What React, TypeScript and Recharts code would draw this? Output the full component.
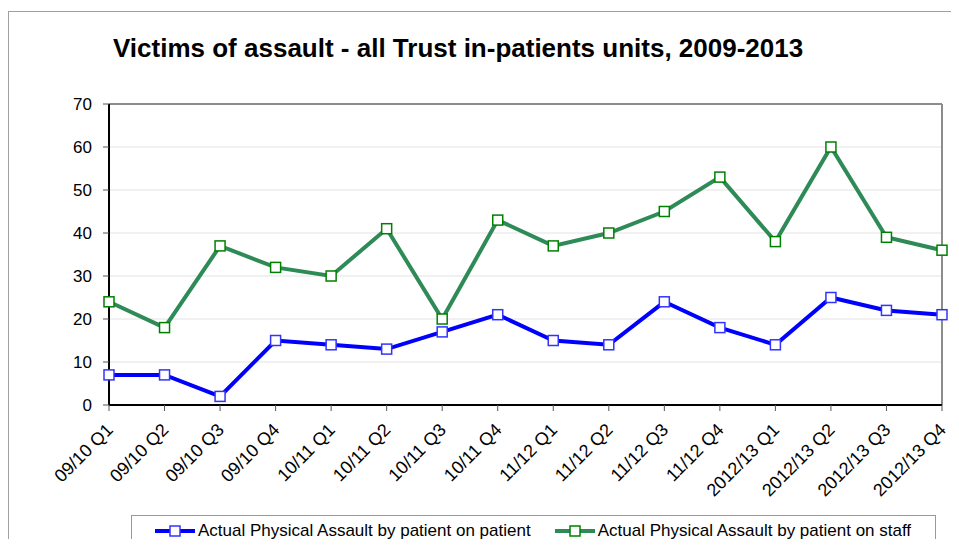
import React from "react";
import { CartesianGrid, Line, LineChart, ReferenceLine, XAxis, YAxis } from "recharts";

// Quarter labels along the x axis.
const QUARTERS = [
  "09/10 Q1", "09/10 Q2", "09/10 Q3", "09/10 Q4",
  "10/11 Q1", "10/11 Q2", "10/11 Q3", "10/11 Q4",
  "11/12 Q1", "11/12 Q2", "11/12 Q3", "11/12 Q4",
  "2012/13 Q1", "2012/13 Q2", "2012/13 Q3", "2012/13 Q4",
];

const ON_PATIENT = [7, 7, 2, 15, 14, 13, 17, 21, 15, 14, 24, 18, 14, 25, 22, 21];
const ON_STAFF = [24, 18, 37, 32, 30, 41, 20, 43, 37, 40, 45, 53, 38, 60, 39, 36];

const Y_TICKS = [0, 10, 20, 30, 40, 50, 60, 70];

const SERIES = [
  { key: "patient", name: "Actual Physical Assault by patient on patient", line: "#0000FF", edge: "#3333FF", width: 4 },
  { key: "staff", name: "Actual Physical Assault by patient on staff", line: "#2E8B57", edge: "#008000", width: 4 },
];

const FONT = "'Liberation Sans', Arial, sans-serif";

const data = QUARTERS.map((q, i) => ({ q, patient: ON_PATIENT[i], staff: ON_STAFF[i] }));

function SquareDot(edge: string) {
  return (props: any) => {
    const { cx, cy, index } = props;
    if (cx == null || cy == null) return null;
    return (
      <rect key={index} x={cx - 5} y={cy - 5} width={10} height={10} fill="#FFFFFF" stroke={edge} strokeWidth={1.5} />
    );
  };
}

function QuarterTick(props: any) {
  const { x, y, payload } = props;
  return (
    <text
      transform={`translate(${x + 5},${y + 20}) rotate(-45)`}
      textAnchor="end"
      fontSize={18}
      fontFamily={FONT}
      fill="#000"
    >
      {payload.value}
    </text>
  );
}

function LegendIcon({ line, edge }: { line: string; edge: string }) {
  return (
    <svg width={40} height={12} style={{ display: "block" }}>
      <line x1={0} y1={6} x2={40} y2={6} stroke={line} strokeWidth={4} />
      <rect x={15} y={1} width={10} height={10} fill="#FFFFFF" stroke={edge} strokeWidth={1.5} />
    </svg>
  );
}

export default function App() {
  return (
    <div style={{ position: "relative", width: 959, height: 547, margin: -8, overflow: "hidden", background: "#fff" }}>
      <div
        style={{
          position: "absolute", left: 8, top: 11, width: 1000, height: 600,
          border: "1px solid #A0A0A0", boxSizing: "border-box",
        }}
      />
      <div
        style={{
          position: "absolute", left: 113, top: 35, lineHeight: "26px", fontSize: 26,
          fontWeight: "bold", fontFamily: FONT, color: "#000", whiteSpace: "nowrap",
        }}
      >
        Victims of assault - all Trust in-patients units, 2009-2013
      </div>
      <div style={{ position: "absolute", left: 0, top: 0 }}>
        <LineChart width={959} height={547} data={data} margin={{ top: 104, right: 17, left: 0, bottom: 32 }}>
          <CartesianGrid vertical={false} stroke="#E3E3E3" strokeWidth={1} />
          <XAxis
            dataKey="q"
            interval={0}
            height={110}
            tickSize={6}
            tickMargin={0}
            stroke="#000"
            strokeWidth={2}
            tick={<QuarterTick />}
            tickLine={{ stroke: "#555", strokeWidth: 1 }}
          />
          <YAxis
            width={109}
            domain={[0, 70]}
            ticks={Y_TICKS}
            interval={0}
            tickSize={6}
            tickMargin={11}
            stroke="#000"
            strokeWidth={2}
            tickLine={{ stroke: "#555", strokeWidth: 1 }}
            tick={{ fill: "#000", fontSize: 17, fontFamily: FONT }}
          />
          <ReferenceLine y={70} stroke="#8C8C8C" strokeWidth={2} />
          <ReferenceLine x={QUARTERS[QUARTERS.length - 1]} stroke="#8C8C8C" strokeWidth={2} />
          {SERIES.map((s) => (
            <Line
              key={s.key}
              type="linear"
              dataKey={s.key}
              name={s.name}
              stroke={s.line}
              strokeWidth={s.width}
              dot={SquareDot(s.edge)}
              activeDot={false}
              isAnimationActive={false}
            />
          ))}
        </LineChart>
      </div>
      <div
        style={{
          position: "absolute", left: 131, top: 515, width: 805, height: 32, boxSizing: "border-box",
          border: "1px solid #999", display: "flex", alignItems: "center", paddingLeft: 23,
          fontFamily: FONT, fontSize: 17, color: "#000", whiteSpace: "nowrap",
        }}
      >
        {SERIES.map((s, i) => (
          <div key={s.key} style={{ display: "flex", alignItems: "center", marginLeft: i === 0 ? 0 : 24 }}>
            <LegendIcon line={s.line} edge={s.edge} />
            <span style={{ marginLeft: 3 }}>{s.name}</span>
          </div>
        ))}
      </div>
    </div>
  );
}
